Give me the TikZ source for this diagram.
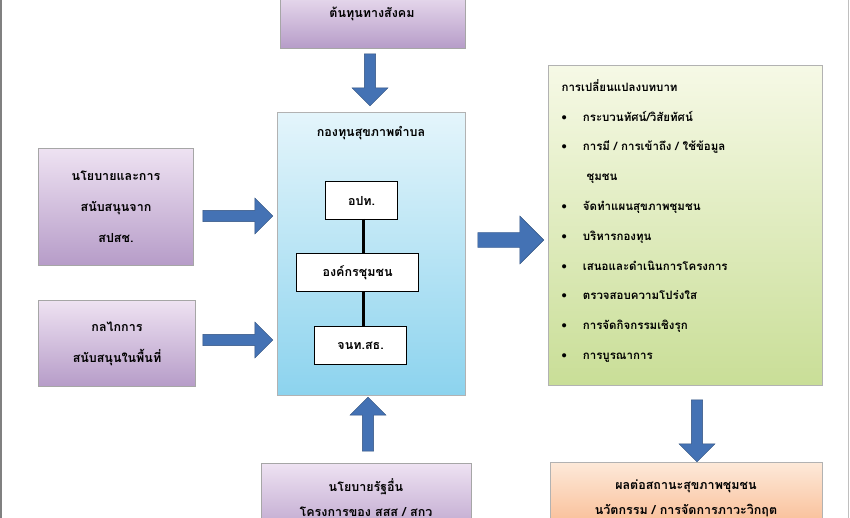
\documentclass[tikz,border=0pt]{standalone}
\usepackage{fontspec}
\newfontfamily\thaifont[Script=Thai]{Loma}
\usetikzlibrary{shapes.arrows}
\definecolor{purpA}{HTML}{EEE2F2}\definecolor{purpB}{HTML}{B69CC8}
\definecolor{cyanA}{HTML}{E4F5FB}\definecolor{cyanB}{HTML}{8CD3EE}
\definecolor{grnA}{HTML}{F6F9E6}\definecolor{grnB}{HTML}{C9DE97}
\definecolor{orgA}{HTML}{FDE9D9}\definecolor{orgB}{HTML}{F9B98F}
\definecolor{arr}{HTML}{4472B4}
\begin{document}
\begin{tikzpicture}[x=1pt,y=-1pt,font=\thaifont\fontsize{12.5}{31}\selectfont\bfseries,
 pbox/.style={draw=gray!70,line width=1pt,top color=purpA,bottom color=purpB,align=center,anchor=north west},
 ibox/.style={draw=black,line width=1.2pt,fill=white,minimum height=38pt,anchor=north west},
 barrow/.style={single arrow,draw=arr!70!black,fill=arr,single arrow head extend=7pt,minimum width=36pt,inner sep=3pt}]
\useasboundingbox (0,0) rectangle (850,518);
\begin{scope}
\clip (0,0) rectangle (850,518);
\fill[white] (0,0) rectangle (850,518);
\draw[gray,line width=2pt] (1,0)--(1,518);
\draw[gray!50,line width=1pt] (848,0)--(848,518);
% top
\node[pbox,minimum width=185pt,minimum height=60pt] (top) at (280,-12) {};
\node (toptxt) at (372,14) {ต้นทุนทางสังคม};
% center
\node[draw=gray!60,line width=1pt,top color=cyanA,bottom color=cyanB,minimum width=188pt,minimum height=283pt,anchor=north west] (fund) at (277,112) {};
\node (fundtxt) at (371,133) {กองทุนสุขภาพตำบล};
\node[ibox,minimum width=72pt] (a) at (325,181) {อปท.};
\node[ibox,minimum width=122pt] (b) at (296,253) {องค์กรชุมชน};
\node[ibox,minimum width=92pt] (c) at (314,326) {จนท.สธ.};
\coordinate (la) at (363,219);
\draw[line width=3pt] (la) -- (la |- b.north);
\draw[line width=3pt] (la |- b.south) -- (la |- c.north);
% left
\node[pbox,minimum width=155pt,minimum height=117pt] (l1) at (38,148) {};
\node[align=center] at (l1.center) {นโยบายและการ\\สนับสนุนจาก\\สปสช.};
\node[pbox,minimum width=157pt,minimum height=86pt] (l2) at (38,300) {};
\node[align=center] at (l2.center) {กลไกการ\\สนับสนุนในพื้นที่};
% bottom
\node[pbox,minimum width=210pt,minimum height=80pt] (bot) at (261,463) {};
\node[align=center,anchor=north,font=\thaifont\fontsize{12.5}{25}\selectfont\bfseries] at (366,475) {นโยบายรัฐอื่น\\โครงการของ สสส / สกว};
% green
\node[draw=gray!60,line width=1pt,top color=grnA,bottom color=grnB,minimum width=274pt,minimum height=320pt,anchor=north west] (g) at (548,65) {};
\node[anchor=north west,align=left,font=\thaifont\fontsize{11.5}{29.8}\selectfont\bfseries] at (558,76) {%
การเปลี่ยนแปลงบทบาท\\
\textbullet\hspace{16pt}กระบวนทัศน์/วิสัยทัศน์\\
\textbullet\hspace{16pt}การมี / การเข้าถึง / ใช้ข้อมูล\\
\hspace{25pt}ชุมชน\\
\textbullet\hspace{16pt}จัดทำแผนสุขภาพชุมชน\\
\textbullet\hspace{16pt}บริหารกองทุน\\
\textbullet\hspace{16pt}เสนอและดำเนินการโครงการ\\
\textbullet\hspace{16pt}ตรวจสอบความโปร่งใส\\
\textbullet\hspace{16pt}การจัดกิจกรรมเชิงรุก\\
\textbullet\hspace{16pt}การบูรณาการ};
% orange
\node[draw=gray!60,line width=1pt,top color=orgA,bottom color=orgB,minimum width=272pt,minimum height=70pt,anchor=north west] (o) at (550,462) {};
\node[align=center,anchor=north,font=\thaifont\fontsize{12.5}{25}\selectfont\bfseries] at (686,476) {ผลต่อสถานะสุขภาพชุมชน\\นวัตกรรม / การจัดการภาวะวิกฤต};
% arrows
\node[barrow,rotate=-90,minimum height=52pt] (d1) at (370,77) {};
\node[barrow,rotate=90,minimum height=54pt] (u1) at (368,427) {};
\node[barrow,minimum height=70pt] (r1) at (235,216) {};
\node[barrow,minimum height=70pt] (r2) at (235,340) {};
\node[barrow,minimum height=66pt,minimum width=48pt] (r3) at (507,240) {};
\node[barrow,rotate=-90,minimum height=62pt] (d2) at (697,428) {};
\end{scope}
\end{tikzpicture}
\end{document}
